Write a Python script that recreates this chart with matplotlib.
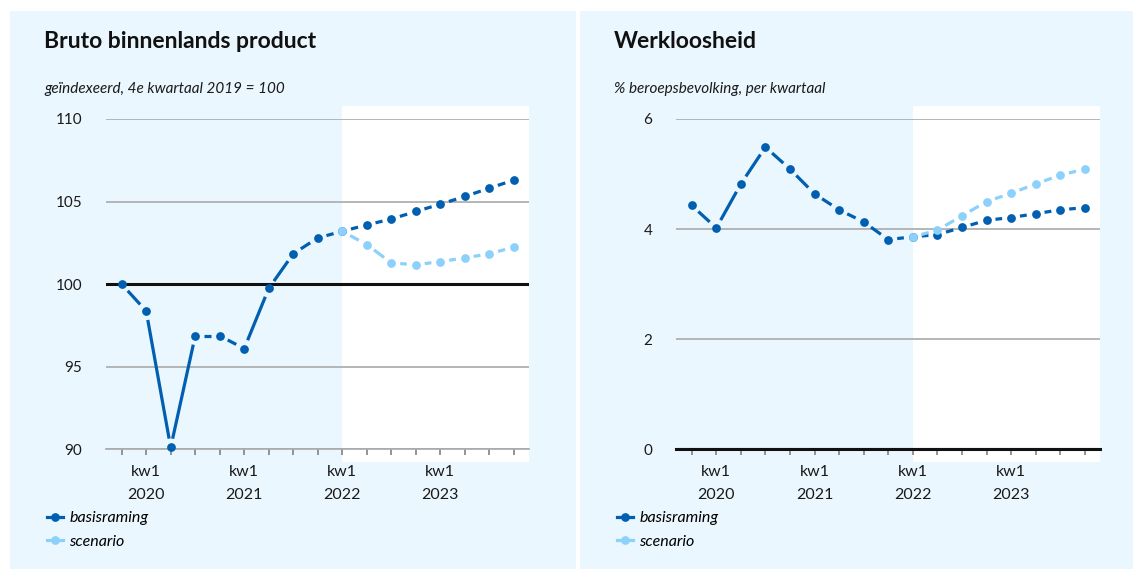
import numpy as np
import matplotlib
matplotlib.use("Agg")
import matplotlib.pyplot as plt
from matplotlib.lines import Line2D
from matplotlib.patches import Rectangle

plt.rcParams['font.family'] = ['Lato', 'DejaVu Sans']

# ---------------- data ----------------
quarters = ['kw4 2019',
            'kw1 2020', 'kw2 2020', 'kw3 2020', 'kw4 2020',
            'kw1 2021', 'kw2 2021', 'kw3 2021', 'kw4 2021',
            'kw1 2022', 'kw2 2022', 'kw3 2022', 'kw4 2022',
            'kw1 2023', 'kw2 2023', 'kw3 2023', 'kw4 2023']
tick_labels = ['', 'kw1\n2020', '', '', '', 'kw1\n2021', '', '', '',
               'kw1\n2022', '', '', '', 'kw1\n2023', '', '', '']
forecast_start = 9  # index of kw1 2022

nan = np.nan
bbp_basis = [100.0, 98.37, 90.11, 96.87, 96.87, 96.10, 99.74, 101.84, 102.80,
             103.20, 103.59, 103.94, 104.40, 104.84, 105.31, 105.81, 106.30]
bbp_scen = [nan, nan, nan, nan, nan, nan, nan, nan, nan,
            103.20, 102.40, 101.29, 101.17, 101.37, 101.59, 101.84, 102.24]

wl_basis = [4.43, 4.02, 4.82, 5.49, 5.09, 4.64, 4.35, 4.13, 3.81,
            3.86, 3.90, 4.03, 4.16, 4.21, 4.28, 4.35, 4.39]
wl_scen = [nan, nan, nan, nan, nan, nan, nan, nan, nan,
           3.86, 3.98, 4.24, 4.50, 4.65, 4.82, 4.98, 5.09]

series_names = ['basisraming', 'scenario']

# ---------------- style ----------------
DARK = '#005FB0'
LIGHT = '#8CD1FB'
PANEL = '#EBF7FE'
GRID = '#A9A9A9'
W, H = 1133, 569
GAP_PX = 9.0

fig = plt.figure(figsize=(W / 100, H / 100), dpi=100)
fig.patch.set_facecolor('white')

# panels
for x0, x1 in [(10, 576), (580, 1133)]:
    fig.patches.append(Rectangle((x0 / W, 0), (x1 - x0) / W, 1 - 11 / H,
                                 transform=fig.transFigure, facecolor=PANEL,
                                 edgecolor='none', zorder=-10))


def draw_series(ax, vals, color, z):
    pts = [(i, v) for i, v in enumerate(vals) if np.isfinite(v)]
    T = ax.transData
    inv = T.inverted()
    for (x0, y0), (x1, y1) in zip(pts[:-1], pts[1:]):
        p0 = T.transform((x0, y0))
        p1 = T.transform((x1, y1))
        d = p1 - p0
        u = d / np.hypot(*d)
        a = inv.transform(p0 + u * GAP_PX)
        b = inv.transform(p1 - u * GAP_PX)
        ax.plot([a[0], b[0]], [a[1], b[1]], color=color, lw=2.3,
                solid_capstyle='butt', zorder=z, clip_on=False)
    xs = [p[0] for p in pts]
    ys = [p[1] for p in pts]
    ax.plot(xs, ys, ls='none', marker='o', ms=6.3, color=color,
            markeredgewidth=0, zorder=z + 0.5, clip_on=False)


def make_panel(left_px, right_px, ylim, yticks, base, bottom_black,
               basis, scen, title, subtitle, title_x):
    bottom = 1 - 449.3 / H
    height = 330.3 / H
    ax = fig.add_axes([left_px / W, bottom, (right_px - left_px) / W, height])
    ax.set_facecolor('none')
    ax.set_xlim(-0.64, 16.62)
    ax.set_ylim(*ylim)
    # forecast shading
    ax.axvspan(forecast_start, 16.62, ymin=-0.0385, ymax=1.039,
               facecolor='white', edgecolor='none', clip_on=False, zorder=0)
    for s in ['top', 'right', 'left']:
        ax.spines[s].set_visible(False)
    ax.spines['bottom'].set_color('#111111' if bottom_black else GRID)
    ax.spines['bottom'].set_linewidth(2.2 if bottom_black else 1.2)
    ax.spines['bottom'].set_zorder(3)
    ax.set_yticks(yticks)
    ax.set_yticklabels([str(t) for t in yticks])
    ax.tick_params(axis='y', length=0, pad=17, labelsize=11, labelcolor='#1a1a1a')
    ax.set_xticks(range(len(quarters)))
    ax.set_xticklabels(tick_labels)
    for lab in ax.get_xticklabels():
        lab.set_linespacing(1.75)
    ax.tick_params(axis='x', length=4, width=1.1, color='#777777', pad=7.5,
                   labelsize=11.5, labelcolor='#1a1a1a')
    ax.grid(axis='y', color=GRID, lw=1.2, zorder=1)
    ax.set_axisbelow(True)
    ax.axhline(base, color='#111111', lw=2.2, zorder=2)
    draw_series(ax, basis, DARK, 4)
    draw_series(ax, scen, LIGHT, 6)

    fig.text(title_x / W, 1 - 42 / H, title, fontsize=16.5, fontweight='bold',
             color='#111111', va='center', ha='left')
    fig.text(title_x / W, 1 - 89 / H, subtitle, fontsize=11, style='italic',
             color='#1a1a1a', va='center', ha='left')

    handles = [Line2D([], [], color=DARK, lw=2.3, marker='o', ms=6.3, mew=0),
               Line2D([], [], color=LIGHT, lw=2.3, marker='o', ms=6.3, mew=0)]
    ax.legend(handles, series_names, loc='upper left',
              bbox_to_anchor=((title_x + 3) / W, 1 - 511 / H),
              bbox_transform=fig.transFigure, frameon=False,
              prop={'style': 'italic', 'size': 11.5}, handlelength=1.0,
              handletextpad=0.4, labelspacing=0.6, borderaxespad=0,
              borderpad=0)
    return ax


make_panel(106, 529, (90, 110), [90, 95, 100, 105, 110], 100, False,
           bbp_basis, bbp_scen, 'Bruto binnenlands product',
           'geïndexeerd, 4e kwartaal 2019 = 100', 44)
make_panel(676, 1100, (0, 6), [0, 2, 4, 6], 0, True,
           wl_basis, wl_scen, 'Werkloosheid',
           '% beroepsbevolking, per kwartaal', 614)

fig.savefig('out.png', dpi=100, facecolor='white')
